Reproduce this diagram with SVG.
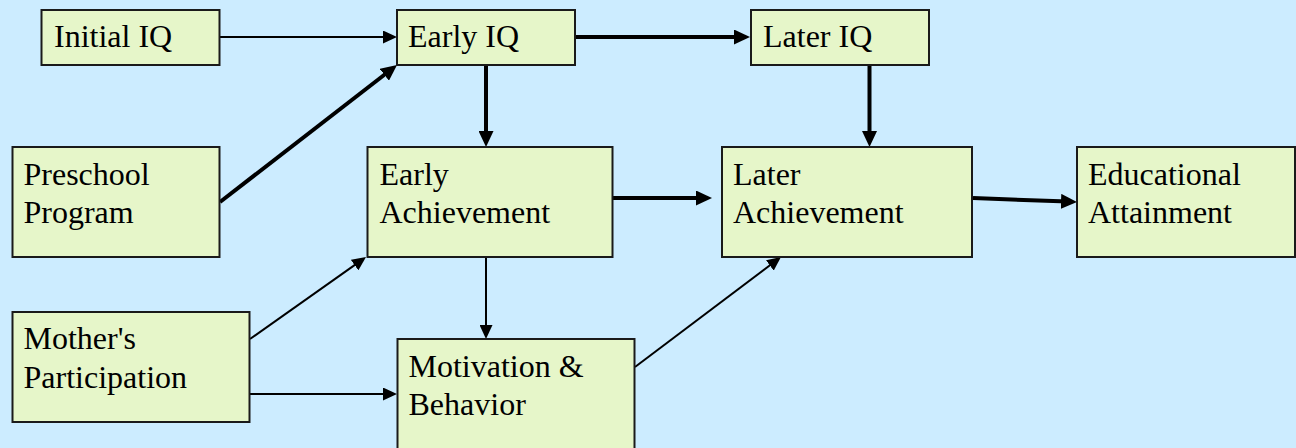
<svg xmlns="http://www.w3.org/2000/svg" width="1296" height="448" viewBox="0 0 1296 448">
<style>
.box{fill:#E6F6C9;stroke:#1a1a1a;stroke-width:2}
.lbl{font-family:"Liberation Serif","Times New Roman",serif;font-size:32px;fill:#000}
.thin{stroke:#000;stroke-width:2;fill:none}
.thick{stroke:#000;stroke-width:4;fill:none}
</style>
<defs>
<marker id="ah" markerUnits="userSpaceOnUse" markerWidth="14" markerHeight="13" refX="6" refY="6.5" orient="auto" viewBox="0 0 14 13">
<path d="M0,0 L14,6.5 L0,13 z" fill="#000"/>
</marker>
<marker id="ahb" markerUnits="userSpaceOnUse" markerWidth="16" markerHeight="15" refX="7" refY="7.5" orient="auto" viewBox="0 0 16 15">
<path d="M0,0 L16,7.5 L0,15 z" fill="#000"/>
</marker>
</defs>
<rect x="0" y="0" width="1296" height="448" fill="#CCECFF"/>
<g id="connectors">
<path class="thin" d="M220,37 L389,37" marker-end="url(#ah)"/>
<path class="thick" d="M575,37 L741,37" marker-end="url(#ahb)"/>
<path class="thick" d="M486,65 L486,138" marker-end="url(#ahb)"/>
<path class="thick" d="M220,202 L389.9,70.5" marker-end="url(#ahb)"/>
<path class="thick" d="M869.5,65 L869.5,138" marker-end="url(#ahb)"/>
<path class="thick" d="M612,198 L703,198" marker-end="url(#ahb)"/>
<path class="thick" d="M973,198 L1068,201.6" marker-end="url(#ahb)"/>
<path class="thin" d="M250,339 L359.5,261.6" marker-end="url(#ah)"/>
<path class="thin" d="M250,394 L389,394" marker-end="url(#ah)"/>
<path class="thin" d="M486,257 L486,331" marker-end="url(#ah)"/>
<path class="thin" d="M635,367 L774.6,261.8" marker-end="url(#ah)"/>
</g>
<g id="initial-iq">
<rect class="box" x="41.5" y="10" width="178" height="55"/>
<text class="lbl" x="54" y="47">Initial IQ</text>
</g>
<g id="early-iq">
<rect class="box" x="397" y="10" width="178" height="55"/>
<text class="lbl" x="408" y="47">Early IQ</text>
</g>
<g id="later-iq">
<rect class="box" x="751" y="10" width="178" height="55"/>
<text class="lbl" x="763" y="47">Later IQ</text>
</g>
<g id="preschool">
<rect class="box" x="12.5" y="147" width="207" height="110"/>
<text class="lbl" x="23.5" y="185">Preschool</text>
<text class="lbl" x="23.5" y="223">Program</text>
</g>
<g id="early-achievement">
<rect class="box" x="367.5" y="147" width="245" height="110"/>
<text class="lbl" x="379.5" y="185">Early</text>
<text class="lbl" x="379.5" y="223">Achievement</text>
</g>
<g id="later-achievement">
<rect class="box" x="722" y="147" width="250" height="110"/>
<text class="lbl" x="733" y="185">Later</text>
<text class="lbl" x="733" y="223">Achievement</text>
</g>
<g id="educational-attainment">
<rect class="box" x="1077" y="147" width="218" height="110"/>
<text class="lbl" x="1088" y="185">Educational</text>
<text class="lbl" x="1088" y="223">Attainment</text>
</g>
<g id="mothers-participation">
<rect class="box" x="12.5" y="312" width="237" height="110"/>
<text class="lbl" x="23.5" y="349">Mother's</text>
<text class="lbl" x="23.5" y="387.5">Participation</text>
</g>
<g id="motivation-behavior">
<rect class="box" x="397.5" y="339" width="237" height="120"/>
<text class="lbl" x="408.5" y="377">Motivation &amp;</text>
<text class="lbl" x="408.5" y="415">Behavior</text>
</g>
</svg>
